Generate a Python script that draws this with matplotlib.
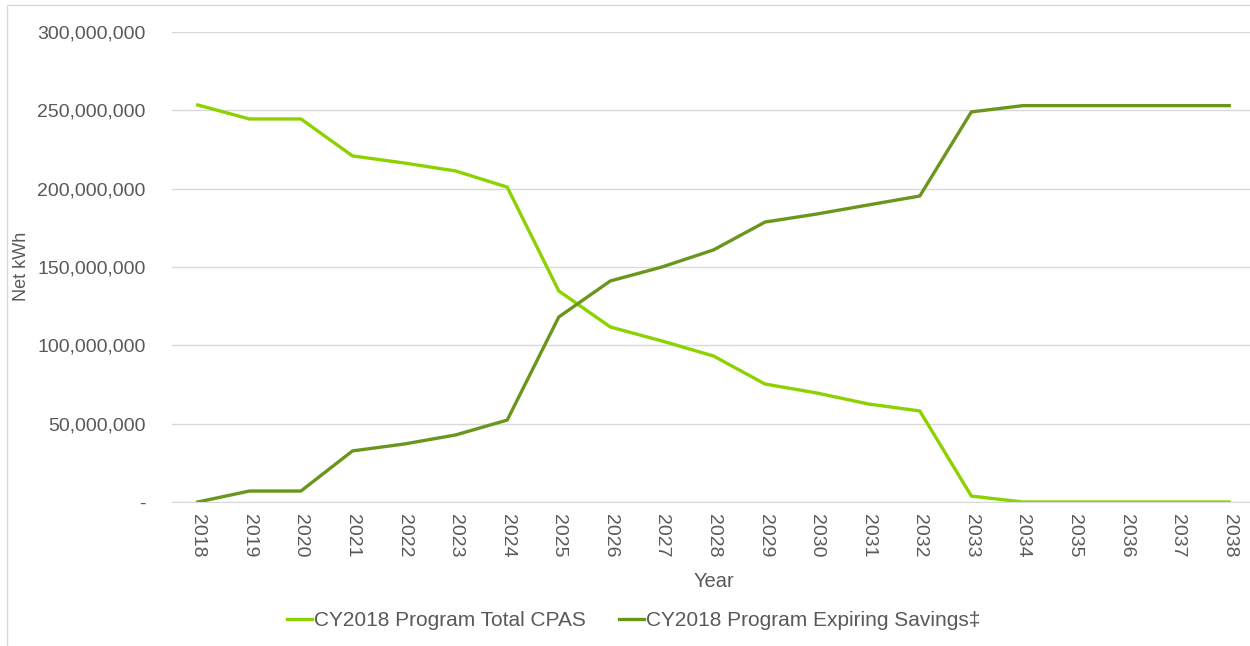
import matplotlib.pyplot as plt
from matplotlib.patches import Rectangle
from matplotlib.ticker import FuncFormatter

years = list(range(2018, 2039))
total_cpas = [253.4, 244.5, 244.5, 220.9, 216.4, 211.3, 201.0, 134.7, 111.7, 102.8,
              93.2, 75.3, 69.6, 62.6, 58.1, 3.8, 0, 0, 0, 0, 0]
expiring = [0, 7.0, 7.0, 32.6, 37.0, 42.8, 52.3, 118.1, 141.1, 150.0,
            160.9, 178.7, 183.8, 189.6, 195.3, 249.0, 253.0, 253.0, 253.0, 253.0, 253.0]
total_cpas = [v * 1e6 for v in total_cpas]
expiring = [v * 1e6 for v in expiring]

plt.rcParams['font.family'] = ['Liberation Sans', 'DejaVu Sans']
txt = '#595959'

fig = plt.figure(figsize=(12.5, 6.46), dpi=100)
ax = fig.add_axes([172 / 1250, 1 - 502 / 646, (1255 - 172) / 1250, (502 - 32) / 646])

ax.plot(years, total_cpas, color='#8CD200', lw=2.4, label='CY2018 Program Total CPAS')
ax.plot(years, expiring, color='#6B961E', lw=2.4, label='CY2018 Program Expiring Savings‡')

ax.set_xlim(2017.5, 2038.5)
ax.set_ylim(0, 300e6)
ax.set_yticks(range(0, 300000001, 50000000))
ax.yaxis.set_major_formatter(FuncFormatter(lambda v, p: '-' if v == 0 else f'{int(v):,}'))
ax.set_xticks(years)
ax.set_xticklabels([str(y) for y in years], rotation=270)
ax.tick_params(length=0, labelsize=14, colors=txt)
ax.tick_params(axis='y', pad=19)
ax.tick_params(axis='x', pad=9)
ax.grid(axis='y', color='#D9D9D9', lw=1)
ax.set_axisbelow(True)
for s in ['top', 'right', 'left']:
    ax.spines[s].set_visible(False)
ax.spines['bottom'].set_color('#D9D9D9')

ax.set_xlabel('Year', fontsize=14.5, color=txt, labelpad=10)
fig.text(22 / 1250, 1 - 266 / 646, 'Net kWh', rotation=90, fontsize=13, color=txt,
         ha='center', va='center')

leg = fig.legend(loc='center', bbox_to_anchor=(0.507, 1 - 621 / 646), ncol=2, frameon=False,
                 fontsize=15, handlelength=1.2, handletextpad=0.1, columnspacing=1.6)
for t in leg.get_texts():
    t.set_color(txt)

fig.patches.append(Rectangle((7 / 1250, -0.05), 1.1, 1 - 5 / 646 + 0.05, transform=fig.transFigure,
                             fill=False, edgecolor='#D9D9D9', lw=1))

fig.savefig('out.png', dpi=100)
